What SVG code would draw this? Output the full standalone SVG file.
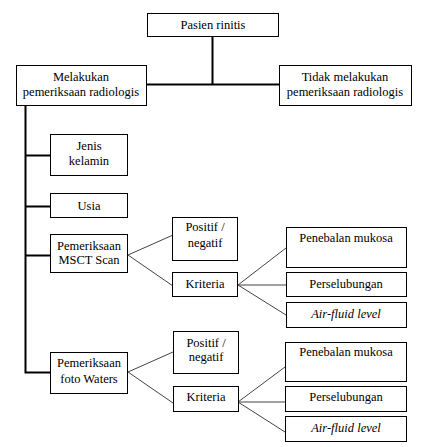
<svg xmlns="http://www.w3.org/2000/svg" width="427" height="447" viewBox="0 0 427 447">
<style>
.box{fill:#fff;stroke:#000;stroke-width:1}
.t{font-size:12.5px;fill:#000;text-anchor:middle}
.i{font-style:italic}
.main{stroke:#000;stroke-width:2;fill:none}
.thin{stroke:#444;stroke-width:1;fill:none}
</style>
<rect width="427" height="447" fill="#fff"/>
<g id="connectors">
<path class="main" d="M212.5 36V84.5M147 84.5H279"/>
<path class="main" d="M25.5 105V372.5H50M25 155.5H50M25 206.5H50M25 255.5H50"/>
<path class="thin" d="M128 255L173 235M128 255L173 286"/>
<path class="thin" d="M238 285L286 248M238 285H286M238 285L286 315"/>
<path class="thin" d="M128 372L173 352M128 372L173 403"/>
<path class="thin" d="M238 402L285 367M238 402H285M238 402L285 432"/>
</g>
<g font-family="Liberation Serif, Times New Roman, serif">
<g id="pasien"><rect class="box" x="147.5" y="13.5" width="131" height="23"/><text class="t" x="213" y="29">Pasien rinitis</text></g>
<g id="melakukan"><rect class="box" x="16.5" y="65.5" width="130" height="40"/><text class="t" x="81" y="81">Melakukan</text><text class="t" x="81" y="96">pemeriksaan radiologis</text></g>
<g id="tidak"><rect class="box" x="279.5" y="65.5" width="132" height="40"/><text class="t" x="345" y="81">Tidak melakukan</text><text class="t" x="345" y="96">pemeriksaan radiologis</text></g>
<g id="jenis"><rect class="box" x="50.5" y="134.5" width="77" height="41"/><text class="t" x="89" y="150">Jenis</text><text class="t" x="89" y="165">kelamin</text></g>
<g id="usia"><rect class="box" x="50.5" y="193.5" width="77" height="24"/><text class="t" x="89" y="210">Usia</text></g>
<g id="msct"><rect class="box" x="50.5" y="234.5" width="77" height="38"/><text class="t" x="89" y="250">Pemeriksaan</text><text class="t" x="89" y="264">MSCT Scan</text></g>
<g id="positif1"><rect class="box" x="172.5" y="217.5" width="65" height="43"/><text class="t" x="205" y="231">Positif /</text><text class="t" x="205" y="247">negatif</text></g>
<g id="kriteria1"><rect class="box" x="172.5" y="272.5" width="65" height="24"/><text class="t" x="205" y="288">Kriteria</text></g>
<g id="penebalan1"><rect class="box" x="286.5" y="227.5" width="120" height="40"/><text class="t" x="346" y="242">Penebalan mukosa</text></g>
<g id="perselubungan1"><rect class="box" x="286.5" y="272.5" width="120" height="24"/><text class="t" x="346" y="288">Perselubungan</text></g>
<g id="airfluid1"><rect class="box" x="286.5" y="302.5" width="120" height="25"/><text class="t i" x="346" y="318">Air-fluid level</text></g>
<g id="waters"><rect class="box" x="50.5" y="352.5" width="77" height="41"/><text class="t" x="89" y="367">Pemeriksaan</text><text class="t" x="89" y="383">foto Waters</text></g>
<g id="positif2"><rect class="box" x="173.5" y="331.5" width="65" height="42"/><text class="t" x="206" y="347">Positif /</text><text class="t" x="206" y="361">negatif</text></g>
<g id="kriteria2"><rect class="box" x="173.5" y="386.5" width="65" height="25"/><text class="t" x="206" y="401">Kriteria</text></g>
<g id="penebalan2"><rect class="box" x="285.5" y="342.5" width="121" height="39"/><text class="t" x="346" y="356">Penebalan mukosa</text></g>
<g id="perselubungan2"><rect class="box" x="285.5" y="386.5" width="121" height="25"/><text class="t" x="346" y="401">Perselubungan</text></g>
<g id="airfluid2"><rect class="box" x="285.5" y="416.5" width="121" height="25"/><text class="t i" x="346" y="432">Air-fluid level</text></g>
</g>
</svg>
